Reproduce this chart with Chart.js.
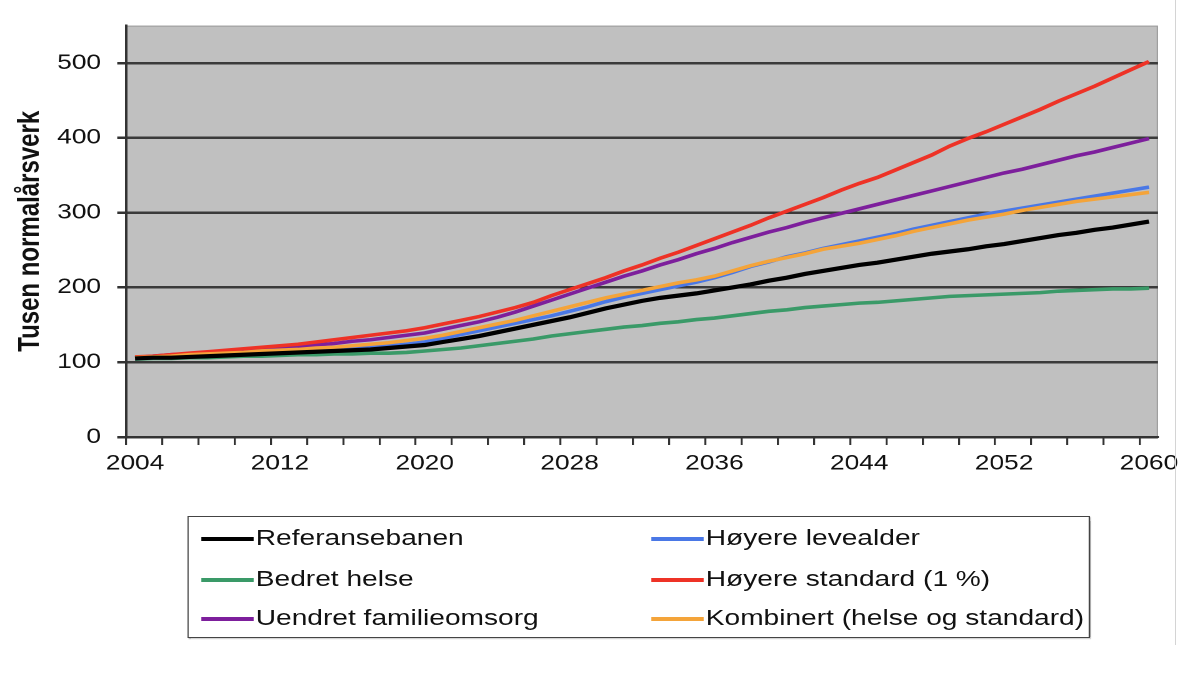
<!DOCTYPE html>
<html>
<head>
<meta charset="utf-8">
<script src="https://cdn.jsdelivr.net/npm/chart.js@4.4.1/dist/chart.umd.min.js"></script>
<style>
  html, body { margin: 0; padding: 0; background: #fff; }
  body { width: 1190px; height: 673px; overflow: hidden; position: relative; }
  /* the original picture is stretched sideways, so the whole figure is too */
  #stage { position: absolute; left: 0; top: 0; width: 952px; height: 673px;
           transform: scaleX(1.25); transform-origin: 0 0; }
  #wrap { position: absolute; left: 0; top: 0; width: 952px; height: 500px; }
  #legend { position: absolute; left: 150px; top: 516px; width: 722px; height: 122px;
            border: 1.5px solid #444; box-shadow: 1px 1px 1px #aaa; box-sizing: border-box;
            font-family: "Liberation Sans", Arial, sans-serif; font-size: 22.5px; color: #111; }
  .item { position: absolute; height: 30px; line-height: 30px; white-space: nowrap; }
  .item span.s { position: absolute; left: 0; top: 14px; width: 42px; }
  .item span.t { position: absolute; left: 44px; top: 0; }
  #edge { position: absolute; left: 1175px; top: 0; width: 1px; height: 645px; background: #d4d4d4; }
</style>
</head>
<body>
<div id="stage">
  <div id="wrap"><canvas id="chart"></canvas></div>
  <div id="legend"></div>
</div>
<div id="edge"></div>
<script>
// År (kategorier)
const years = [2004,2005,2006,2007,2008,2009,2010,2011,2012,2013,2014,2015,2016,2017,2018,2019,
  2020,2021,2022,2023,2024,2025,2026,2027,2028,2029,2030,2031,2032,2033,2034,2035,2036,2037,
  2038,2039,2040,2041,2042,2043,2044,2045,2046,2047,2048,2049,2050,2051,2052,2053,2054,2055,
  2056,2057,2058,2059,2060];
const yearLabels = [2004, 2012, 2020, 2028, 2036, 2044, 2052, 2060];
const yTicks = [0, 100, 200, 300, 400, 500];

// Tusen normalårsverk, lest av figuren
const referanse = [105,106,106,107,108,109,110,111,112,113,114,115,116,117,119,121,123,127,131,135,
  140,145,150,155,160,166,172,177,182,186,189,192,196,200,204,209,213,218,222,226,230,233,237,241,
  245,248,251,255,258,262,266,270,273,277,280,284,288];
const levealder = [105,106,107,108,109,110,111,113,114,115,116,118,119,120,122,124,127,132,137,142,
  147,152,157,162,168,174,181,187,192,197,202,207,213,220,228,234,241,246,252,257,262,267,272,278,
  283,288,293,298,302,306,310,314,318,322,326,330,334];
const helse = [104,105,105,106,106,107,108,108,109,110,110,111,111,112,112,113,115,117,119,122,
  125,128,131,135,138,141,144,147,149,152,154,157,159,162,165,168,170,173,175,177,179,180,182,184,
  186,188,189,190,191,192,193,195,196,197,198,198,199];
const standard = [107,108,110,112,114,116,118,120,122,124,127,130,133,136,139,142,146,151,156,161,
  167,173,180,189,197,205,213,222,230,239,247,256,265,274,283,293,302,311,320,330,339,347,357,367,
  377,389,399,408,418,428,438,449,459,469,480,491,502];
const familie = [106,108,110,111,112,114,116,117,119,121,123,125,128,130,133,136,139,144,149,154,
  160,167,175,183,191,199,207,215,222,230,237,245,252,260,267,274,280,287,293,299,305,311,317,323,
  329,335,341,347,353,358,364,370,376,381,387,393,399];
const kombinert = [106,107,108,110,111,112,113,115,116,117,119,120,122,124,126,129,132,136,141,146,
  151,156,162,168,174,180,186,191,196,201,206,210,215,222,229,235,240,245,251,255,259,264,269,275,
  280,285,290,294,298,303,307,311,315,318,321,324,327];

const series = [
  { label: 'Referansebanen', data: referanse, color: '#000000', width: 4.2, order: 1 },
  { label: 'Høyere levealder', data: levealder, color: '#4a78e6', width: 3.6, order: 5 },
  { label: 'Bedret helse', data: helse, color: '#3a9a68', width: 3.6, order: 6 },
  { label: 'Høyere standard (1 %)', data: standard, color: '#ee3226', width: 3.6, order: 3 },
  { label: 'Uendret familieomsorg', data: familie, color: '#7d1f9c', width: 3.6, order: 4 },
  { label: 'Kombinert (helse og standard)', data: kombinert, color: '#f4a43a', width: 3.6, order: 2 }
];

const plotBg = {
  id: 'plotBg',
  beforeDraw(chart) {
    const { ctx, chartArea: a } = chart;
    ctx.save();
    ctx.fillStyle = '#c0c0c0';
    ctx.fillRect(a.left, a.top, a.right - a.left, a.bottom - a.top);
    ctx.strokeStyle = '#9a9a9a';
    ctx.lineWidth = 1;
    ctx.beginPath();
    ctx.moveTo(a.left, a.top + 0.5);
    ctx.lineTo(a.right - 0.5, a.top + 0.5);
    ctx.lineTo(a.right - 0.5, a.bottom);
    ctx.stroke();
    ctx.restore();
  }
};

const chart = new Chart(document.getElementById('chart'), {
  type: 'line',
  data: {
    labels: years,
    datasets: series.map(s => ({
      label: s.label, data: s.data, borderColor: s.color, backgroundColor: s.color,
      borderWidth: s.width, pointRadius: 0, tension: 0, fill: false, order: s.order
    }))
  },
  options: {
    responsive: true, maintainAspectRatio: false, animation: false,
    devicePixelRatio: 2,
    layout: { padding: { left: 0, right: 25.6, top: 25, bottom: 0 } },
    plugins: { legend: { display: false }, tooltip: { enabled: false } },
    scales: {
      x: {
        offset: true,
        afterFit: s => { s.height = 63; },
        grid: {
          offset: true, drawOnChartArea: false, tickLength: 8, lineWidth: 1.6,
          tickColor: c => (c.index !== undefined && c.index % 2 === 0) ? '#333' : 'rgba(0,0,0,0)'
        },
        border: { color: '#333', width: 2 },
        ticks: {
          autoSkip: false, maxRotation: 0, padding: 6, color: '#111',
          font: { family: 'Liberation Sans', size: 21 },
          callback: (v, i) => yearLabels.includes(years[i]) ? String(years[i]) : ''
        }
      },
      y: {
        min: 0, max: 550,
        afterFit: s => { s.width = 100.8; },
        afterBuildTicks: s => { s.ticks = yTicks.map(v => ({ value: v })); },
        grid: { color: '#3a3a3a', lineWidth: 2.5, tickLength: 7, tickColor: '#333' },
        border: { color: '#333', width: 2 },
        ticks: { padding: 13, color: '#111', font: { family: 'Liberation Sans', size: 21 } },
        title: {
          display: true, text: 'Tusen normalårsverk', color: '#111',
          padding: { top: 10, bottom: 0 },
          font: { family: 'Liberation Sans', size: 24, weight: 'bold' }
        }
      }
    }
  },
  plugins: [plotBg]
});

// Legende i to kolonner som i originalen
const legendOrder = [
  ['Referansebanen', 0, 0], ['Bedret helse', 0, 1], ['Uendret familieomsorg', 0, 2],
  ['Høyere levealder', 1, 0], ['Høyere standard (1 %)', 1, 1], ['Kombinert (helse og standard)', 1, 2]
];
const colX = [9.6, 369.6];
const rowY = [6, 47, 86];
const legend = document.getElementById('legend');
legendOrder.forEach(([name, col, row]) => {
  const s = series.find(d => d.label === name);
  const el = document.createElement('div');
  el.className = 'item';
  el.style.left = colX[col] + 'px';
  el.style.top = rowY[row] + 'px';
  el.innerHTML = '<span class="s" style="height:' + Math.round(s.width) + 'px;background:' + s.color +
    '"></span><span class="t">' + name + '</span>';
  legend.appendChild(el);
});
</script>
</body>
</html>
